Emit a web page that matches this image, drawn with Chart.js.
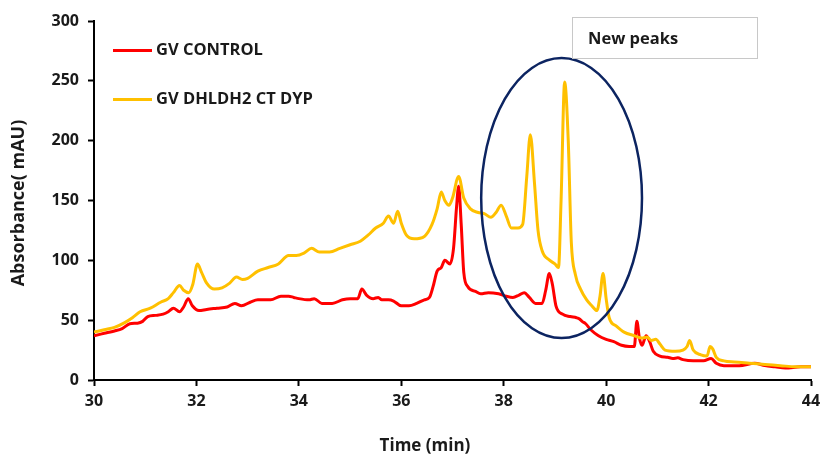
<!DOCTYPE html>
<html>
<head>
<meta charset="utf-8">
<script src="https://cdn.jsdelivr.net/npm/chart.js@4.4.1/dist/chart.umd.min.js"></script>
<style>
  html, body { margin: 0; padding: 0; background: #fff; }
  #chart { display: block; }
</style>
</head>
<body>
<canvas id="chart" width="823" height="458"></canvas>
<script>
// Chromatogram traces, time in minutes, absorbance in mAU
const controlTime = [30.0, 30.2, 30.4, 30.55, 30.7, 30.85, 30.95, 31.05, 31.2, 31.35, 31.45, 31.55, 31.67, 31.75, 31.84, 31.92, 32.05, 32.2, 32.4, 32.6, 32.75, 32.88, 33.05, 33.2, 33.45, 33.65, 33.8, 33.9, 34.0, 34.2, 34.3, 34.45, 34.65, 34.85, 35.0, 35.15, 35.23, 35.32, 35.45, 35.55, 35.62, 35.75, 35.85, 36.0, 36.15, 36.3, 36.45, 36.55, 36.62, 36.7, 36.78, 36.85, 36.95, 37.02, 37.08, 37.12, 37.17, 37.22, 37.3, 37.45, 37.55, 37.7, 37.9, 38.05, 38.18, 38.3, 38.4, 38.5, 38.62, 38.75, 38.82, 38.89, 38.95, 39.02, 39.15, 39.3, 39.42, 39.48, 39.53, 39.6, 39.7, 39.85, 40.0, 40.15, 40.3, 40.45, 40.55, 40.6, 40.65, 40.7, 40.78, 40.85, 40.92, 41.05, 41.2, 41.3, 41.4, 41.5, 41.7, 41.9, 42.05, 42.15, 42.3, 42.6, 42.9, 43.1, 43.3, 43.5, 43.8, 44.0];
const controlValues = [37, 39, 41, 43, 47, 47.5, 49, 53, 54, 55, 57, 60, 57, 61, 68, 62, 58, 59, 60, 61, 64, 62, 65, 67, 67, 70, 70, 69, 68, 67, 68, 64, 64, 67, 68, 68, 76, 71, 68, 69, 67, 67, 66, 62, 62, 64, 67, 69, 78, 91, 94, 100, 97, 110, 145, 162, 130, 90, 78, 74, 72, 73, 72, 70, 69, 71, 73, 69, 64, 64, 75, 89, 80, 62, 55, 53, 52, 51, 49, 47, 42, 37, 34, 32, 29, 28, 28, 49, 35, 29, 37, 32, 24, 20, 19, 18, 18.5, 17, 16, 16, 18, 14, 12, 12, 14, 12, 11, 10, 11, 11];

const dypTime = [30.0, 30.2, 30.4, 30.6, 30.75, 30.9, 31.1, 31.3, 31.45, 31.55, 31.67, 31.75, 31.85, 31.93, 32.02, 32.1, 32.2, 32.35, 32.5, 32.65, 32.78, 32.9, 33.0, 33.2, 33.4, 33.6, 33.8, 33.95, 34.1, 34.25, 34.4, 34.6, 34.8, 35.0, 35.2, 35.35, 35.5, 35.65, 35.75, 35.85, 35.93, 36.0, 36.1, 36.25, 36.45, 36.6, 36.7, 36.78, 36.85, 36.93, 37.0, 37.12, 37.22, 37.35, 37.5, 37.62, 37.75, 37.85, 37.95, 38.05, 38.15, 38.28, 38.37, 38.45, 38.52, 38.6, 38.67, 38.75, 38.9, 39.0, 39.07, 39.12, 39.19, 39.26, 39.32, 39.4, 39.5, 39.62, 39.72, 39.82, 39.88, 39.94, 40.0, 40.06, 40.2, 40.35, 40.55, 40.7, 40.8, 40.88, 40.97, 41.05, 41.15, 41.35, 41.5, 41.58, 41.63, 41.7, 41.85, 41.97, 42.03, 42.08, 42.15, 42.3, 42.5, 42.8, 43.1, 43.4, 43.7, 44.0];
const dypValues = [40, 42, 44, 48, 52, 57, 60, 65, 68, 73, 79, 75, 73, 80, 97, 90, 81, 76, 77, 81, 86, 84, 85, 91, 94, 97, 104, 104, 106, 110, 107, 107, 110, 113, 116, 121, 127, 131, 137, 131, 141, 131, 121, 118, 120, 130, 143, 157, 150, 146, 152, 170, 152, 143, 140, 139, 136, 140, 146, 137, 127, 127, 130, 170, 205, 165, 125, 108, 100, 97, 94, 150, 249, 200, 115, 88, 76, 67, 62, 58, 70, 89, 68, 52, 45, 40, 37, 35, 36, 33, 34, 30, 25, 24, 25, 28, 33, 25, 21, 20, 28, 26, 19, 16, 15, 14, 13, 12, 11, 11];

const seriesNames = ['GV CONTROL', 'GV DHLDH2 CT DYP'];
const seriesColors = ['#ff0000', '#ffc000'];
const xTicks = [30, 32, 34, 36, 38, 40, 42, 44];
const yTicks = [0, 50, 100, 150, 200, 250, 300];

// Highlight ring around the new peaks (data units)
const ring = { x: 39.13, y: 152, rx: 1.57, ry: 117 };

const toPoints = (xs, ys) => xs.map((x, i) => ({ x: x, y: ys[i] }));
const font = '"Open Sans", sans-serif';

const extras = {
    id: 'extras',
    afterDatasetsDraw(chart) {
        const { ctx, scales: { x, y } } = chart;
        ctx.save();

        // ellipse around the new peaks
        const cx = x.getPixelForValue(ring.x), cy = y.getPixelForValue(ring.y);
        const rx = x.getPixelForValue(ring.x + ring.rx) - cx;
        const ry = cy - y.getPixelForValue(ring.y + ring.ry);
        ctx.beginPath();
        ctx.ellipse(cx, cy, rx, ry, 0, 0, Math.PI * 2);
        ctx.strokeStyle = '#0c2461';
        ctx.lineWidth = 2.5;
        ctx.stroke();

        // "New peaks" text box
        ctx.fillStyle = '#fff';
        ctx.fillRect(572.5, 17.5, 185, 41);
        ctx.strokeStyle = '#c8c8c8';
        ctx.lineWidth = 1;
        ctx.strokeRect(572.5, 17.5, 185, 41);
        ctx.fillStyle = '#1a1a1a';
        ctx.font = 'bold 16.5px ' + font;
        ctx.textAlign = 'left';
        ctx.textBaseline = 'middle';
        ctx.fillText('New peaks', 588, 39);

        // legend
        const rows = [50.5, 99.5];
        seriesNames.forEach((name, i) => {
            ctx.beginPath();
            ctx.moveTo(113, rows[i]);
            ctx.lineTo(152, rows[i]);
            ctx.strokeStyle = seriesColors[i];
            ctx.lineWidth = 3;
            ctx.stroke();
            ctx.fillStyle = '#1a1a1a';
            ctx.font = 'bold 16.5px ' + font;
            ctx.fillText(name, 156, rows[i]);
        });

        // axis titles
        ctx.font = 'bold 17px ' + font;
        ctx.textAlign = 'center';
        ctx.fillText('Time (min)', 425, 446);
        ctx.font = 'bold 18px ' + font;
        ctx.translate(19, 203);
        ctx.rotate(-Math.PI / 2);
        ctx.fillText('Absorbance( mAU)', 0, 0);

        ctx.restore();
    }
};

const axisStyle = {
    border: { display: true, color: '#000', width: 2 },
    grid: { drawOnChartArea: false, drawTicks: true, tickLength: 6, tickColor: '#000', tickWidth: 2 }
};

new Chart(document.getElementById('chart'), {
    type: 'line',
    data: {
        datasets: [
            {
                label: seriesNames[0],
                data: toPoints(controlTime, controlValues),
                borderColor: seriesColors[0],
                borderWidth: 3,
                pointRadius: 0,
                cubicInterpolationMode: 'monotone',
                order: 1
            },
            {
                label: seriesNames[1],
                data: toPoints(dypTime, dypValues),
                borderColor: seriesColors[1],
                borderWidth: 3,
                pointRadius: 0,
                cubicInterpolationMode: 'monotone',
                order: 0
            }
        ]
    },
    options: {
        responsive: false,
        animation: false,
        layout: { padding: { left: 0, right: 12, top: 21, bottom: 0 } },
        plugins: { legend: { display: false }, tooltip: { enabled: false } },
        scales: {
            x: {
                type: 'linear',
                min: 30,
                max: 44,
                ...axisStyle,
                afterBuildTicks: (s) => { s.ticks = xTicks.map(v => ({ value: v })); },
                afterFit: (s) => { s.height = 78; s.paddingRight = 0; s.paddingLeft = 0; },
                ticks: { color: '#1a1a1a', padding: 6, font: { family: font, size: 16, weight: 'bold' } }
            },
            y: {
                min: 0,
                max: 300,
                ...axisStyle,
                afterBuildTicks: (s) => { s.ticks = yTicks.map(v => ({ value: v })); },
                afterFit: (s) => { s.width = 94; s.paddingTop = 0; s.paddingBottom = 0; },
                ticks: { color: '#1a1a1a', padding: 9, font: { family: font, size: 16, weight: 'bold' } }
            }
        }
    },
    plugins: [extras]
});
</script>
</body>
</html>
